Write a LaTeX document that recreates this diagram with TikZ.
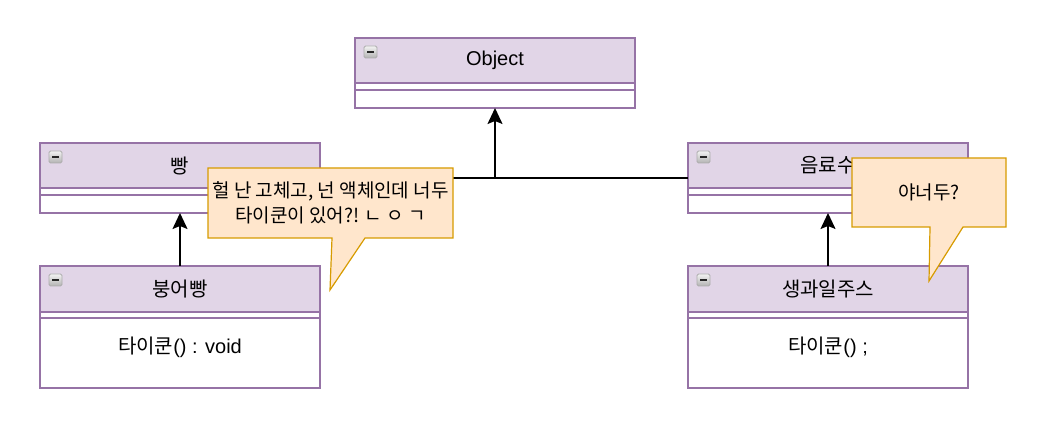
\documentclass[tikz,border=0pt]{standalone}
\usepackage{fontspec}
\setmainfont{Liberation Sans}
\newfontfamily\kr{Noto Sans CJK KR}
\usetikzlibrary{arrows.meta,positioning,calc}

\definecolor{classfill}{HTML}{E1D5E7}
\definecolor{classline}{HTML}{9673A6}
\definecolor{notefill}{HTML}{FFE6CC}
\definecolor{noteline}{HTML}{D79B00}

% collapse icon in the top left corner of a class header
\newcommand{\minusicon}[1]{%
  \draw[iconbox] ($(#1.north west)+(9,8)$) rectangle ++(13,12);
  \draw[icondash] ($(#1.north west)+(12,14)$) -- ++(7,0);}

\begin{document}
\begin{tikzpicture}[x=1pt,y=-1pt,line width=1.2pt,
  head/.style={draw=classline,fill=classfill,minimum width=280pt,minimum height=45pt,
    inner sep=0pt,outer sep=0pt,font=\fontsize{20}{24}\selectfont},
  slot/.style={draw=classline,fill=white,minimum width=280pt,minimum height=#1,
    inner sep=0pt,outer sep=0pt},
  member/.style={inner sep=0pt,font=\fontsize{20}{24}\selectfont},
  note/.style={draw=noteline,fill=notefill},
  notetext/.style={align=center,inner sep=0pt,font=\fontsize{19}{24.5}\selectfont\kr},
  iconbox/.style={draw=gray!65,line width=0.9pt,rounded corners=1.5pt,top color=gray!10,bottom color=gray!60},
  icondash/.style={line width=2.8pt,black!85},
  link/.style={line width=1.5pt,black},
  inherit/.style={link,-{Stealth[length=16pt,width=15pt,inset=3pt]}}]
  \useasboundingbox (0,0) rectangle (1040,427);
  % Object
  \node[head] (obj) at (495,60.5) {Object};
  \node[slot=7pt,below=0pt of obj] (objA) {};
  \node[slot=18pt,below=0pt of objA] (objB) {};
  \minusicon{obj}
  % 빵
  \node[head] (bbang) at (180,165.5) {\kr 빵};
  \node[slot=7pt,below=0pt of bbang] (bbangA) {};
  \node[slot=18pt,below=0pt of bbangA] (bbangB) {};
  \minusicon{bbang}
  % 붕어빵
  \node[head,minimum height=46pt] (bung) at (180,289) {\kr 붕어빵};
  \node[slot=6pt,below=0pt of bung] (bungA) {};
  \node[slot=70pt,below=0pt of bungA] (bungB) {};
  \node[member,below=18pt of bungB.north] (bungM) {{\kr 타이쿤}() : void};
  \minusicon{bung}
  % 음료수
  \node[head] (drink) at (828,165.5) {\kr 음료수};
  \node[slot=7pt,below=0pt of drink] (drinkA) {};
  \node[slot=18pt,below=0pt of drinkA] (drinkB) {};
  \minusicon{drink}
  % 생과일주스
  \node[head,minimum height=46pt] (juice) at (828,289) {\kr 생과일주스};
  \node[slot=6pt,below=0pt of juice] (juiceA) {};
  \node[slot=70pt,below=0pt of juiceA] (juiceB) {};
  \node[member,below=18pt of juiceB.north] (juiceM) {{\kr 타이쿤}() ;};
  \minusicon{juice}
  % inheritance
  \coordinate (join) at (495,178);
  \draw[link] (join -| bbang.east) -- (join -| drink.west);
  \draw[inherit] (join) -- (objB.south);
  \draw[inherit] (bung.north) -- (bbangB.south);
  \draw[inherit] (juice.north) -- (drinkB.south);
  % callouts
  \draw[note] (208,168) -- (453,168) -- (453,238) -- (365,238) -- (330,290) -- (332,238) -- (208,238) -- cycle;
  \node[notetext] (note1) at (330.5,203) {헐 난 고체고, 넌 액체인데 너두\\타이쿤이 있어?! ㄴ ㅇ ㄱ};
  \draw[note] (852,158) -- (1006,158) -- (1006,227) -- (963,227) -- (929,281) -- (930,227) -- (852,227) -- cycle;
  \node[notetext] (note2) at (929,192.5) {야너두?};
\end{tikzpicture}
\end{document}
